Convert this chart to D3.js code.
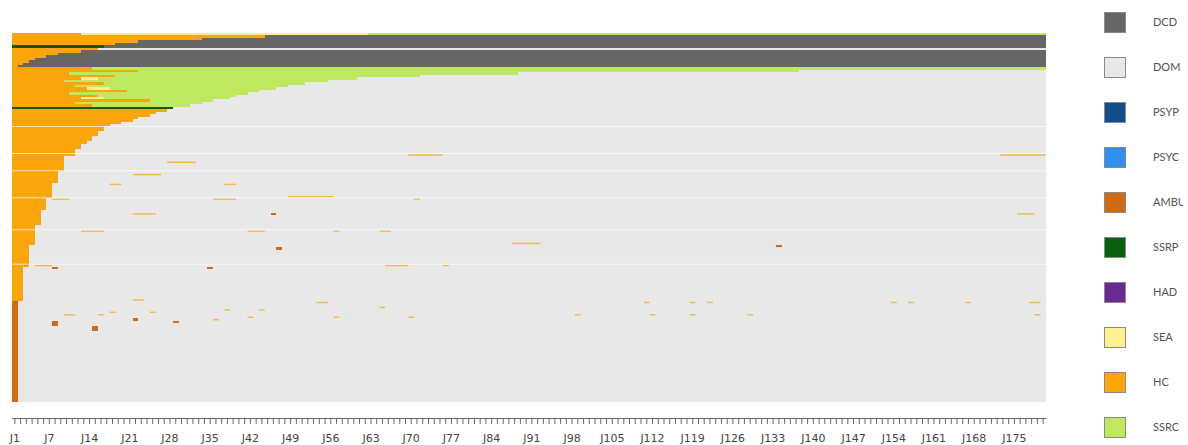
<!DOCTYPE html>
<html><head><meta charset="utf-8">
<script src="https://cdn.jsdelivr.net/npm/d3@7"></script>
<style>html,body{margin:0;padding:0;background:#fff;} svg{display:block;}</style>
</head><body><svg id="c" width="1188" height="445"></svg>
<script>
// ---- categories ----
const states = ["DCD","DOM","PSYP","PSYC","AMBU","SSRP","HAD","SEA","HC","SSRC"];
const stateColors = ["#666666","#e8e8e8","#124e8c","#3190ee","#cf6a15","#08600f","#6b2a8f","#fdf08e","#faa50a","#bfe760"];
const days = d3.range(1, 181).map(d => "J" + d);
const tickLabels = ["J1","J7","J14","J21","J28","J35","J42","J49","J56","J63","J70","J77","J84","J91","J98",
  "J105","J112","J119","J126","J133","J140","J147","J154","J161","J168","J175"];

// ---- trajectories: [number of patients, [state, last day, state, last day, ...]] ----
const deceasedGroup = [
  [1, ["HC",12,"SEA",62,"SSRC",180]],
  [1, ["HC",44,"DCD",180]],
  [1, ["HC",33,"DCD",180]],
  [1, ["HC",22,"DCD",180]],
  [1, ["HC",18,"DCD",180]],
  [1, ["SSRP",16,"DCD",180]],
  [1, ["HC",15,"DOM",180]],
  [1, ["HC",12,"DCD",180]],
  [1, ["HC",8,"DCD",180]],
  [1, ["HC",6,"DCD",180]],
  [1, ["HC",4,"DCD",180]],
  [1, ["HC",3,"DCD",180]],
  [1, ["HC",2,"DCD",180]],
  [1, ["HC",1,"DCD",180]]
];
const rehabGroup = [
  [1, ["HC",14,"SSRC",180]],
  [1, ["HC",22,"SSRC",137,"DOM",180]],
  [1, ["HC",10,"SSRC",88,"DOM",180]],
  [1, ["HC",18,"SSRC",71,"DOM",180]],
  [1, ["HC",12,"SEA",15,"SSRC",60,"DOM",180]],
  [1, ["HC",9,"SSRC",55,"DOM",180]],
  [1, ["HC",16,"SSRC",51,"DOM",180]],
  [1, ["HC",11,"SSRC",48,"DOM",180]],
  [1, ["HC",13,"SEA",17,"SSRC",46,"DOM",180]],
  [1, ["HC",20,"SSRC",43,"DOM",180]],
  [1, ["HC",10,"SSRC",41,"DOM",180]],
  [1, ["HC",15,"SSRC",39,"DOM",180]],
  [1, ["HC",12,"SEA",16,"SSRC",38,"DOM",180]],
  [1, ["HC",24,"SSRC",35,"DOM",180]],
  [1, ["HC",11,"SSRC",33,"DOM",180]],
  [1, ["HC",14,"SSRC",31,"DOM",180]],
  [1, ["SSRP",28,"DOM",180]]
];
const homeGroup = [
  [1, ["HC",27,"DOM",180]], [1, ["HC",25,"DOM",180]], [1, ["HC",24,"DOM",180]],
  [1, ["HC",22,"DOM",180]], [1, ["HC",21,"DOM",180]], [1, ["HC",19,"DOM",180]],
  [1, ["HC",17,"DOM",180]], [2, ["HC",16,"DOM",180]], [2, ["HC",15,"DOM",180]],
  [2, ["HC",14,"DOM",180]], [1, ["HC",13,"DOM",180]], [2, ["HC",12,"DOM",180]],
  [3, ["HC",11,"DOM",180]], [6, ["HC",9,"DOM",180]], [5, ["HC",8,"DOM",180]],
  [6, ["HC",7,"DOM",180]], [5, ["HC",6,"DOM",180]], [6, ["HC",5,"DOM",180]],
  [8, ["HC",4,"DOM",180]], [9, ["HC",3,"DOM",180]], [14, ["HC",2,"DOM",180]]
];
const ambulatoryGroup = [
  [41, ["AMBU",1,"DOM",180]]
];
// ---- later episodes: [patient index, state, first day, last day] ----
const episodes = [
  [49,"HC",70,75],[49,"HC",173,180],[52,"HC",28,32],[57,"HC",22,26],[61,"HC",18,19],[61,"HC",38,39],
  [67,"HC",8,10],[67,"HC",36,39],[66,"HC",49,56],[67,"HC",71,71],[73,"HC",22,25],[73,"AMBU",46,46],
  [73,"HC",176,178],[80,"HC",13,16],[80,"HC",42,44],[80,"HC",57,57],[80,"HC",65,66],[85,"HC",88,92],
  [86,"AMBU",134,134],[87,"AMBU",47,47],[94,"HC",5,7],[95,"AMBU",8,8],[94,"HC",66,69],[94,"HC",76,76],
  [95,"AMBU",35,35],[108,"HC",22,23],
  [109,"HC",54,55],[109,"HC",111,111],[109,"HC",119,119],[109,"HC",122,122],[109,"HC",154,154],
  [109,"HC",157,157],[109,"HC",167,167],[109,"HC",178,179],
  [111,"HC",65,65],[112,"HC",44,44],[112,"HC",38,38],[113,"HC",18,18],[113,"HC",25,25],
  [114,"HC",10,11],[114,"HC",16,16],[114,"HC",99,99],[114,"HC",112,112],[114,"HC",119,119],
  [114,"HC",129,129],[114,"HC",179,179],
  [115,"HC",57,57],[115,"HC",70,70],[115,"HC",42,42],[116,"HC",36,36],[116,"AMBU",22,22],[117,"AMBU",29,29],
  [117,"AMBU",8,8],[118,"AMBU",8,8],[119,"AMBU",15,15],[120,"AMBU",15,15]
];
const separatorRows = [38,49,56,67,80,94];

// ---- build ----
const patients = [];
[deceasedGroup, rehabGroup, homeGroup, ambulatoryGroup].forEach(g =>
  g.forEach(([n, runs]) => { for (let i = 0; i < n; i++) patients.push(runs); }));

const segments = [];
patients.forEach((runs, p) => {
  let start = 1;
  for (let k = 0; k < runs.length; k += 2) {
    segments.push({p, state: runs[k], s: start, e: runs[k + 1], ep: false});
    start = runs[k + 1] + 1;
  }
});
episodes.forEach(([p, st, s, e]) => segments.push({p, state: st, s, e, ep: st === "HC"}));

const svg = d3.select("#c");
const color = d3.scaleOrdinal().domain(states).range(stateColors);
const x = d3.scaleBand().domain(days).range([12, 1046]).padding(0);
const y = d3.scaleBand().domain(d3.range(patients.length)).range([33, 402]).padding(0);

const plot = svg.append("g");
plot.selectAll("rect.seg").data(segments).join("rect")
  .attr("class","seg")
  .attr("x", d => x("J" + d.s))
  .attr("width", d => x("J" + d.e) + x.bandwidth() - x("J" + d.s))
  .attr("y", d => d.ep ? y(d.p) + y.bandwidth() * 0.25 : y(d.p))
  .attr("height", d => d.ep ? y.bandwidth() * 0.6 : y.bandwidth() + 0.15)
  .attr("fill", d => color(d.state))
  .attr("fill-opacity", d => d.ep ? 0.7 : 1)
  .attr("shape-rendering", d => d.ep ? "auto" : "crispEdges");

plot.selectAll("line.sep").data(separatorRows).join("line")
  .attr("class","sep")
  .attr("x1", x.range()[0]).attr("x2", x.range()[1])
  .attr("y1", d => y(d)).attr("y2", d => y(d))
  .attr("stroke","#ffffff").attr("stroke-opacity",0.7).attr("stroke-width",1);

// ---- axis ----
const axis = d3.axisBottom(x)
  .tickValues(days)
  .tickSize(6).tickSizeOuter(0).tickPadding(10)
  .tickFormat(d => tickLabels.includes(d) ? d : "");
const ax = svg.append("g").attr("transform","translate(0,418)").call(axis);
ax.select(".domain").attr("stroke","#666");
ax.selectAll(".tick line").attr("stroke","#666");
ax.selectAll("text").attr("fill","#444").style("font-family","DejaVu Sans").style("font-size","11px");

// ---- legend ----
svg.append("clipPath").attr("id","legclip").append("rect")
  .attr("x",1090).attr("y",0).attr("width",93).attr("height",445);
const ly = d3.scalePoint().domain(states).range([22, 427]);
const leg = svg.append("g").attr("clip-path","url(#legclip)");
const li = leg.selectAll("g").data(states).join("g")
  .attr("transform", d => `translate(1104,${ly(d)})`);
li.append("rect").attr("x",0.5).attr("y",-9.5).attr("width",21).attr("height",20)
  .attr("fill", d => color(d)).attr("stroke","#8a8a8a").attr("stroke-width",1);
li.append("text").attr("x",49).attr("y",0).attr("dy","0.35em")
  .text(d => d).attr("fill","#555")
  .style("font-family","Lato, 'Open Sans', sans-serif").style("font-size","11px");
</script></body></html>
